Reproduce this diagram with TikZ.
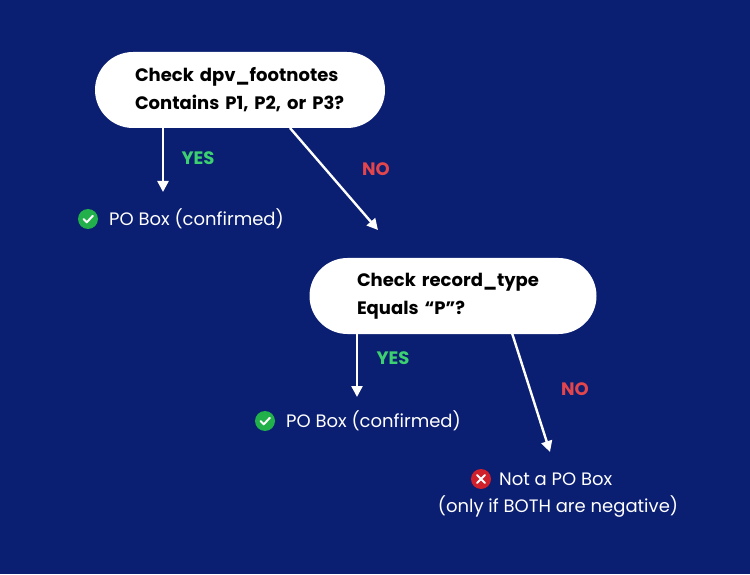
\documentclass[tikz,border=0pt]{standalone}
\usepackage{fontspec}
\setmainfont{Poppins}
\usetikzlibrary{arrows.meta,calc}
\definecolor{bgblue}{HTML}{0A1E72}
\definecolor{yesgreen}{HTML}{3CD070}
\definecolor{nored}{HTML}{E2464C}
\definecolor{okgreen}{HTML}{22B04B}
\definecolor{badred}{HTML}{D0202C}
\tikzset{
  check/.style={rounded corners=38pt,fill=white,minimum height=76pt,text width=#1,align=left,font=\bfseries\fontsize{18}{28}\selectfont},
  flow/.style={draw=white,line width=2.4pt,-{Triangle[length=11pt,width=11pt]}},
  yes/.style={text=yesgreen,font=\bfseries\fontsize{18}{20}\selectfont},
  no/.style={text=nored,font=\bfseries\fontsize{18}{20}\selectfont},
  result/.style={text=white,font=\fontsize{18}{26}\selectfont,inner sep=0pt},
}
\newcommand{\okmark}[1]{%
  \fill[okgreen] (#1) circle (10pt);
  \draw[white,line width=2pt,line cap=round,line join=round] ($(#1)+(-4.5pt,0pt)$) -- ($(#1)+(-1.2pt,-3.3pt)$) -- ($(#1)+(4.8pt,3.2pt)$);}
\newcommand{\badmark}[1]{%
  \fill[badred] (#1) circle (10pt);
  \draw[white,line width=2pt,line cap=round] ($(#1)+(-3.8pt,-3.8pt)$) -- ($(#1)+(3.8pt,3.8pt)$) ($(#1)+(-3.8pt,3.8pt)$) -- ($(#1)+(3.8pt,-3.8pt)$);}
\begin{document}
\begin{tikzpicture}[x=1pt,y=1pt]
  \fill[bgblue] (0,0) rectangle (750,574);
  \useasboundingbox (0,0) rectangle (750,574);
  % first test
  \node[check=210pt,inner xsep=40pt] (dpv) at (240,484) {Check dpv\_footnotes\\Contains P1, P2, or P3?};
  \coordinate (dpvyes) at (163,446);
  \coordinate (dpvno) at (290,446);
  \coordinate (ok1) at (163,382);
  \draw[flow] (dpvyes) -- (ok1);
  \node[yes] (y1) at (198,416) {YES};
  \okmark{88,355}
  \node[result,anchor=west] (po1) at (109,355) {PO Box (confirmed)};
  % second test
  \node[check=192pt,inner xsep=47.5pt] (rec) at (453,278) {Check record\_type\\Equals “P”?};
  \draw[flow] (dpvno) -- (378,344);
  \node[no] (n1) at (376,405) {NO};
  \coordinate (recyes) at (357,241);
  \coordinate (recno) at (512,241);
  \draw[flow] (recyes) -- (357,177);
  \node[yes] (y2) at (393,216) {YES};
  \okmark{265,153}
  \node[result,anchor=west] (po2) at (286,153) {PO Box (confirmed)};
  \draw[flow] (recno) -- (550,122);
  \node[no] (n2) at (575,185) {NO};
  \badmark{481,95}
  \node[result,anchor=west] (notpo) at (499,95) {Not a PO Box};
  \node[result] (both) at (558,67) {(only if BOTH are negative)};
\end{tikzpicture}
\end{document}
